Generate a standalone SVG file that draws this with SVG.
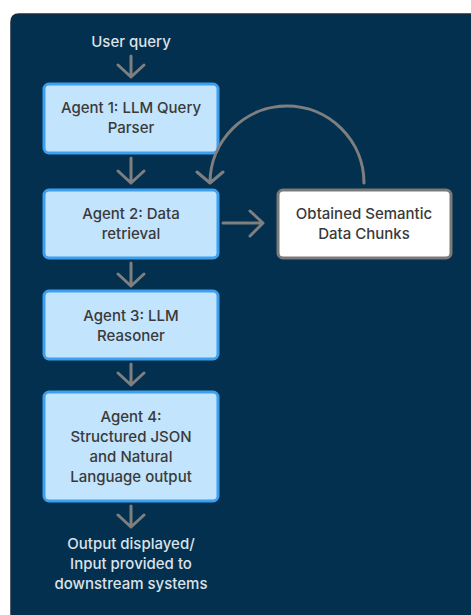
<svg xmlns="http://www.w3.org/2000/svg" width="471" height="615" viewBox="0 0 471 615">
<defs>
<style>
.bg{fill:#03304f;stroke:#1a2a40;stroke-width:1.5}
.agent rect{fill:#c2e4fc;stroke:#3d9ff0;stroke-width:3}
.chunk rect{fill:#ffffff;stroke:#7a7a7a;stroke-width:3}
.t{font-family:Inter,"Liberation Sans",sans-serif;font-size:15px;font-weight:500;fill:#3a3a3a;text-anchor:middle}
.w{font-family:Inter,"Liberation Sans",sans-serif;font-size:15px;font-weight:500;fill:#dde2e8;text-anchor:middle}
.c{fill:none;stroke:#7f7f7f;stroke-width:3;stroke-linecap:round;stroke-linejoin:round}
</style>
</defs>
<rect width="471" height="615" fill="#ffffff"/>
<path class="bg" d="M11,622 V22 Q11,14 19,14 H480 V622 Z"/>
<g id="user-query"><text class="w" x="131" y="47">User query</text></g>
<g id="agent1" class="agent">
<rect x="44" y="84" width="174" height="69" rx="5"/>
<text class="t" x="131" y="113">Agent 1: LLM Query</text>
<text class="t" x="131" y="133">Parser</text>
</g>
<g id="agent2" class="agent">
<rect x="44" y="190" width="174" height="68" rx="5"/>
<text class="t" x="131" y="219">Agent 2: Data</text>
<text class="t" x="131" y="239">retrieval</text>
</g>
<g id="chunks" class="chunk">
<rect x="278" y="190" width="173" height="68" rx="5"/>
<text class="t" x="364" y="219">Obtained Semantic</text>
<text class="t" x="364" y="239">Data Chunks</text>
</g>
<g id="agent3" class="agent">
<rect x="44" y="291" width="174" height="68" rx="5"/>
<text class="t" x="131" y="321">Agent 3: LLM</text>
<text class="t" x="131" y="341">Reasoner</text>
</g>
<g id="agent4" class="agent">
<rect x="44" y="392" width="174" height="109" rx="5"/>
<text class="t" x="131" y="422">Agent 4:</text>
<text class="t" x="131" y="442">Structured JSON</text>
<text class="t" x="131" y="462">and Natural</text>
<text class="t" x="131" y="482">Language output</text>
</g>
<g id="output"><text class="w" x="131" y="549">Output displayed/</text>
<text class="w" x="131" y="569">Input provided to</text>
<text class="w" x="131" y="589">downstream systems</text></g>
<g id="connectors">
<path class="c" d="M131,56 V77 M118,65 L131,77 L144,65"/>
<path class="c" d="M131,158 V183 M118,171 L131,183 L144,171"/>
<path class="c" d="M131,263 V286 M118,274 L131,286 L144,274"/>
<path class="c" d="M131,364 V385 M118,373 L131,385 L144,373"/>
<path class="c" d="M131,506 V527 M118,515 L131,527 L144,515"/>
<path class="c" d="M223,223 H263 M250,211 L263,223 L250,236"/>
<path class="c" d="M364,183 A77,77 0 0 0 210,183 M197,172 L210,183 L223,172"/>
</g>
</svg>
